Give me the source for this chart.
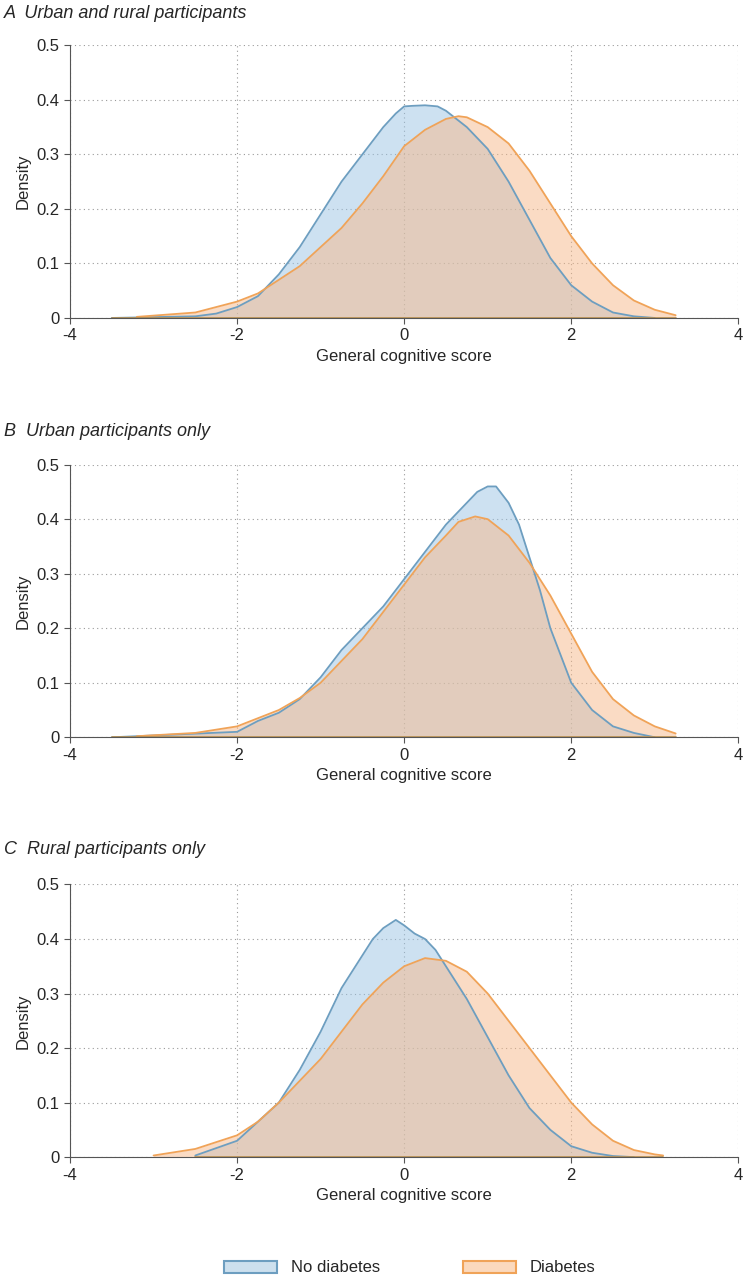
import numpy as np, pandas as pd, seaborn as sns, matplotlib
matplotlib.use("Agg")
import matplotlib.pyplot as plt
from matplotlib.patches import Patch

sns.set_style("white")
plt.rcParams['font.family'] = ['Liberation Sans', 'DejaVu Sans']
plt.rcParams['axes.unicode_minus'] = False

titles = ["A  Urban and rural participants", "B  Urban participants only", "C  Rural participants only"]
a_nd_x = [-3.5,-2.5,-2.25,-2,-1.75,-1.5,-1.25,-1,-0.75,-0.5,-0.25,-0.1,0,0.1,0.25,0.4,0.5,0.75,1,1.25,1.5,1.75,2,2.25,2.5,2.75,3]
a_nd_y = [0,0.003,0.008,0.02,0.04,0.08,0.13,0.19,0.25,0.30,0.35,0.375,0.388,0.389,0.39,0.388,0.38,0.35,0.31,0.25,0.18,0.11,0.06,0.03,0.01,0.003,0]
a_d_x = [-3.2,-2.5,-2,-1.75,-1.5,-1.25,-1,-0.75,-0.5,-0.25,0,0.25,0.5,0.65,0.75,1,1.25,1.5,1.75,2,2.25,2.5,2.75,3,3.25]
a_d_y = [0.002,0.01,0.03,0.045,0.07,0.095,0.13,0.165,0.21,0.26,0.315,0.345,0.365,0.37,0.368,0.35,0.32,0.27,0.21,0.15,0.10,0.06,0.032,0.015,0.005]
b_nd_x = [-3.5,-2,-1.75,-1.5,-1.25,-1,-0.75,-0.5,-0.25,0,0.25,0.5,0.75,0.875,1,1.1,1.25,1.375,1.5,1.625,1.75,1.875,2,2.25,2.5,2.75,3]
b_nd_y = [0,0.01,0.03,0.045,0.07,0.11,0.16,0.2,0.24,0.29,0.34,0.39,0.43,0.45,0.46,0.46,0.43,0.39,0.33,0.27,0.2,0.15,0.1,0.05,0.02,0.008,0]
b_d_x = [-3.2,-2.5,-2,-1.75,-1.5,-1.25,-1,-0.75,-0.5,-0.25,0,0.25,0.5,0.65,0.85,1,1.25,1.5,1.75,2,2.25,2.5,2.75,3,3.25]
b_d_y = [0.002,0.008,0.02,0.035,0.05,0.072,0.1,0.14,0.18,0.23,0.28,0.33,0.37,0.395,0.405,0.40,0.37,0.32,0.26,0.19,0.12,0.07,0.04,0.02,0.007]
c_nd_x = [-2.5,-2,-1.5,-1.25,-1.125,-1,-0.875,-0.75,-0.5,-0.375,-0.25,-0.1,0,0.125,0.25,0.375,0.5,0.625,0.75,1,1.25,1.5,1.75,2,2.25,2.5,2.75]
c_nd_y = [0.003,0.03,0.1,0.16,0.195,0.23,0.27,0.31,0.37,0.40,0.42,0.435,0.425,0.41,0.40,0.38,0.35,0.32,0.29,0.22,0.15,0.09,0.05,0.02,0.008,0.002,0]
c_d_x = [-3,-2.5,-2,-1.75,-1.5,-1.25,-1,-0.75,-0.5,-0.25,0,0.25,0.5,0.75,1,1.25,1.5,1.75,2,2.25,2.5,2.75,3,3.1]
c_d_y = [0.003,0.015,0.04,0.065,0.1,0.14,0.18,0.23,0.28,0.32,0.35,0.365,0.36,0.34,0.30,0.25,0.2,0.15,0.1,0.06,0.03,0.013,0.005,0.003]

panels = [(a_nd_x,a_nd_y,a_d_x,a_d_y),(b_nd_x,b_nd_y,b_d_x,b_d_y),(c_nd_x,c_nd_y,c_d_x,c_d_y)]
blue_l, blue_f = "#6d9ec0", "#9cc4e4"
org_l, org_f = "#f0a358", "#f7b98a"

fig = plt.figure(figsize=(7.45,12.8), dpi=100)
bottoms = [0.7516, 0.424, 0.096]
tops_px = [13, 432, 850]
for i,(nx,ny,dx,dy) in enumerate(panels):
    ax = fig.add_axes([0.094, bottoms[i], 0.897, 0.213])
    df1 = pd.DataFrame({"x":nx,"y":ny}); df2 = pd.DataFrame({"x":dx,"y":dy})
    ax.fill_between(df1.x, df1.y, color=blue_f, alpha=0.5, lw=0)
    ax.fill_between(df2.x, df2.y, color=org_f, alpha=0.5, lw=0)
    sns.lineplot(data=df1, x="x", y="y", color=blue_l, lw=1.3, ax=ax)
    sns.lineplot(data=df2, x="x", y="y", color=org_l, lw=1.3, ax=ax)
    ax.plot([min(nx),max(dx)],[0,0],color="#b9904f",lw=1.2)
    ax.set_xlim(-4,4); ax.set_ylim(0,0.5)
    ax.set_xticks([-4,-2,0,2,4]); ax.set_yticks([0,0.1,0.2,0.3,0.4,0.5])
    ax.set_yticklabels(["0","0.1","0.2","0.3","0.4","0.5"])
    ax.grid(True, ls=(0,(1,3)), color="#999999", lw=0.8)
    for s in ["top","right"]: ax.spines[s].set_visible(False)
    for s in ["left","bottom"]: ax.spines[s].set_color("#555555")
    ax.tick_params(direction="out", length=4, labelsize=12, left=True, bottom=True, color="#555555")
    ax.set_xlabel("General cognitive score", fontsize=12)
    ax.set_ylabel("Density", fontsize=12)
    fig.text(0.005, 1-tops_px[i]/1280, titles[i], fontsize=13, style="italic", va="center")
handles = [Patch(facecolor="#cde0ee", edgecolor=blue_l, lw=1.5, label="No diabetes"),
           Patch(facecolor="#fbd9bd", edgecolor=org_l, lw=1.5, label="Diabetes")]
fig.legend(handles=handles, loc="center", bbox_to_anchor=(0.55, 1-1268/1280), ncol=2, frameon=False,
           fontsize=12, columnspacing=5, handlelength=3.2)
fig.savefig("out.png", dpi=100)
